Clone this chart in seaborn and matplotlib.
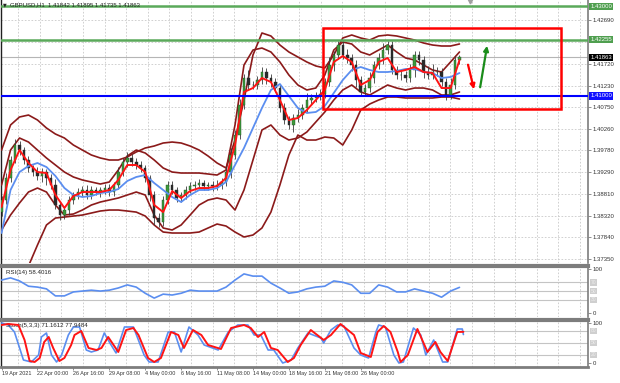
"""GBPUSD H1 chart with Bollinger bands, moving averages, RSI and Stochastic panels."""

import matplotlib

matplotlib.use("Agg")
import matplotlib.pyplot as plt
import matplotlib.transforms as mtransforms
from matplotlib.patches import Rectangle
import numpy as np
import pandas as pd
import seaborn as sns

# ---- x axis: hourly bar index, tick labels every 64 bars ----
date_ticks = [0, 64, 128, 192, 256, 320, 384, 448, 512, 576, 640]
date_labels = ["19 Apr 2021", "22 Apr 00:00", "26 Apr 16:00", "29 Apr 08:00", "4 May 00:00",
               "6 May 16:00", "11 May 08:00", "14 May 00:00", "18 May 16:00", "21 May 08:00",
               "26 May 00:00"]
price_ticks = [1.37350, 1.37840, 1.38320, 1.38810, 1.39290, 1.39780, 1.40260, 1.40750,
               1.41230, 1.41720, 1.42690]
price_grid = price_ticks + [1.42200]

# ---- candles, one every 8 hourly bars ----
candle_step = 8
first_open = 1.38400
closes = [
    1.38671, 1.39163, 1.39566, 1.39901, 1.39789, 1.39566, 1.39387, 1.39297, 1.39208, 1.39297,
    1.39163, 1.39007, 1.38559, 1.38335, 1.38447, 1.38671, 1.38783, 1.38850, 1.38895, 1.38783,
    1.38895, 1.38850, 1.38895, 1.38939, 1.38850, 1.39007, 1.39297, 1.39521, 1.39611, 1.39521,
    1.39454, 1.39387, 1.39163, 1.38783, 1.38268, 1.38179, 1.38671, 1.39007, 1.38895, 1.38716,
    1.38783, 1.38895, 1.38984, 1.39007, 1.39051, 1.38984, 1.39007, 1.38984, 1.39007, 1.39074,
    1.39297, 1.39678, 1.40125, 1.40796, 1.41400, 1.41244, 1.41244, 1.41355, 1.41534, 1.41400,
    1.41311, 1.41176, 1.40729, 1.40461, 1.40349, 1.40505, 1.40572, 1.40729, 1.40908, 1.40953,
    1.40997, 1.41042, 1.41311, 1.41691, 1.41915, 1.42138, 1.41915, 1.41848, 1.41691, 1.41355,
    1.41087, 1.41176, 1.41400, 1.41691, 1.41848, 1.42026, 1.42138, 1.41579, 1.41467, 1.41467,
    1.41400, 1.41579, 1.41915, 1.41803, 1.41534, 1.41467, 1.41534, 1.41534, 1.41311, 1.41020,
    1.41244, 1.41803, 1.41863,
]
# wick lengths beyond the body, in pips
wick_up = [9, 12, 8, 14, 10, 6, 9, 7, 12, 9, 6, 8, 13, 9, 7, 10, 6, 9, 8, 12,
           9, 7, 6, 10, 9, 7, 12, 9, 13, 8, 9, 10, 7, 6, 9, 12, 8, 9, 10, 7,
           6, 9, 8, 10, 9, 7, 6, 9, 12, 8, 14, 16, 12, 13, 9, 18, 10, 8, 12, 9,
           8, 10, 9, 12, 8, 9, 13, 10, 16, 9, 8, 12, 9, 18, 10, 9, 8, 13, 10, 12,
           9, 8, 14, 9, 12, 16, 10, 9, 8, 12, 9, 14, 10, 8, 9, 13, 18, 12, 9, 8,
           16, 9, 6]
wick_dn = [8, 10, 9, 6, 12, 9, 8, 10, 9, 13, 16, 9, 8, 10, 9, 12, 8, 9, 10, 8,
           9, 6, 12, 8, 9, 10, 8, 9, 12, 9, 8, 10, 9, 13, 16, 12, 9, 8, 10, 9,
           8, 9, 6, 10, 9, 8, 9, 12, 8, 10, 9, 13, 10, 8, 9, 12, 9, 10, 8, 13,
           12, 9, 10, 8, 9, 16, 10, 9, 8, 12, 9, 8, 10, 9, 13, 8, 9, 12, 14, 16,
           10, 9, 8, 12, 9, 14, 10, 8, 9, 12, 10, 9, 16, 12, 13, 9, 10, 8, 9, 12,
           9, 10, 8]

# ---- indicator lines, one point every 16 hourly bars ----
line_step = 16
ma_fast = [1.38514, 1.39342, 1.39789, 1.39499, 1.39297, 1.39275, 1.38783, 1.38492, 1.38760, 1.38850,
           1.38850, 1.38850, 1.38895, 1.39119, 1.39454, 1.39454, 1.39297, 1.38559, 1.38401, 1.38872,
           1.38716, 1.38872, 1.38939, 1.38939, 1.38984, 1.39163, 1.39901, 1.41087, 1.41176, 1.41400,
           1.41311, 1.40908, 1.40461, 1.40505, 1.40684, 1.40908, 1.41132, 1.41758, 1.41892, 1.41758,
           1.41244, 1.41355, 1.41758, 1.41848, 1.41534, 1.41579, 1.41646, 1.41534, 1.41512, 1.41176,
           1.41176, 1.41803]
ma_slow = [1.37933, 1.38895, 1.39297, 1.39432, 1.39499, 1.39409, 1.39208, 1.38939, 1.38783, 1.38738,
           1.38760, 1.38828, 1.38850, 1.38917, 1.39096, 1.39186, 1.39230, 1.39051, 1.38895, 1.38738,
           1.38626, 1.38783, 1.38895, 1.38895, 1.38939, 1.39074, 1.39454, 1.39834, 1.40282, 1.40729,
           1.41132, 1.41266, 1.40997, 1.40729, 1.40617, 1.40640, 1.40774, 1.41065, 1.41355, 1.41579,
           1.41646, 1.41579, 1.41534, 1.41534, 1.41557, 1.41602, 1.41602, 1.41534, 1.41512, 1.41400,
           1.41423, 1.41512]
bb_outer_up = [1.39789, 1.40349, 1.40528, 1.40572, 1.40461, 1.40282, 1.40147, 1.40058, 1.39901, 1.39789,
               1.39678, 1.39611, 1.39566, 1.39566, 1.39633, 1.39745, 1.39834, 1.39879, 1.39946, 1.39968,
               1.39946, 1.39879, 1.39789, 1.39655, 1.39499, 1.39387, 1.40013, 1.40908, 1.41915, 1.42407,
               1.42340, 1.42138, 1.41982, 1.41870, 1.41758, 1.41669, 1.41624, 1.41915, 1.42295, 1.42362,
               1.42295, 1.42250, 1.42340, 1.42362, 1.42340, 1.42295, 1.42250, 1.42183, 1.42138, 1.42116,
               1.42116, 1.42161]
bb_outer_dn = [1.36434, 1.36658, 1.36926, 1.37195, 1.37664, 1.38112, 1.38268, 1.38290, 1.38313, 1.38335,
               1.38380, 1.38425, 1.38447, 1.38447, 1.38425, 1.38401, 1.38313, 1.38112, 1.37955, 1.37933,
               1.37933, 1.37933, 1.37955, 1.38045, 1.38134, 1.38089, 1.37955, 1.37844, 1.37888, 1.38045,
               1.38401, 1.39007, 1.39678, 1.40125, 1.40013, 1.40013, 1.40080, 1.40058, 1.39901, 1.40237,
               1.40684, 1.40818, 1.40908, 1.40975, 1.40975, 1.40953, 1.40953, 1.40953, 1.40953, 1.40975,
               1.40975, 1.40930]
bb_inner_up = [1.39007, 1.39789, 1.40058, 1.39968, 1.39789, 1.39611, 1.39454, 1.39297, 1.39186, 1.39119,
               1.39074, 1.39029, 1.39074, 1.39342, 1.39655, 1.39789, 1.39722, 1.39566, 1.39387, 1.39297,
               1.39275, 1.39275, 1.39275, 1.39253, 1.39230, 1.39342, 1.40349, 1.41691, 1.42026, 1.42071,
               1.41982, 1.41758, 1.41467, 1.41244, 1.41132, 1.41176, 1.41467, 1.42026, 1.42205, 1.42161,
               1.41982, 1.41915, 1.42026, 1.42138, 1.41982, 1.41848, 1.41803, 1.41691, 1.41579, 1.41534,
               1.41758, 1.41982]
bb_inner_dn = [1.38000, 1.38335, 1.38604, 1.38850, 1.38939, 1.38850, 1.38559, 1.38335, 1.38358, 1.38447,
               1.38559, 1.38626, 1.38671, 1.38716, 1.38783, 1.38850, 1.38783, 1.38335, 1.38045, 1.38000,
               1.38112, 1.38335, 1.38559, 1.38671, 1.38716, 1.38671, 1.38447, 1.38895, 1.39566, 1.40237,
               1.40349, 1.40125, 1.40013, 1.40058, 1.40192, 1.40416, 1.40640, 1.40908, 1.41132, 1.41244,
               1.41087, 1.41020, 1.41132, 1.41244, 1.41176, 1.41132, 1.41176, 1.41176, 1.41132, 1.41020,
               1.41020, 1.41087]
rsi = [75, 80, 73, 61, 59, 55, 39, 39, 48, 50, 52, 50, 52, 57, 64, 59, 45, 34, 43, 41,
       45, 52, 50, 50, 50, 59, 75, 89, 84, 84, 68, 57, 45, 48, 55, 59, 61, 73, 70, 64,
       45, 45, 64, 59, 48, 48, 55, 50, 45, 36, 50, 58.4]

# ---- stochastic (5,3,3) ----
stoch_k_bars = [0, 12, 23, 39, 53, 66, 71, 80, 89, 98, 107, 119, 128, 139, 151, 160, 172, 183, 192, 204,
                219, 235, 254, 263, 279, 297, 308, 320, 334, 350, 361, 386, 404, 421, 439, 450, 462, 475,
                485, 501, 516, 528, 546, 569, 574, 587, 599, 610, 628, 640, 654, 667, 672, 684, 699, 708,
                716, 734, 747, 756, 770, 786, 795, 812, 821, 823]
stoch_k = [100, 95, 77.5, 7.5, 2.5, 20, 65, 75, 20, 2.5, 20, 70, 90, 90, 32.5, 27.5, 32.5, 75, 52.5, 25,
           90, 90, 20, 2.5, 2.5, 77.5, 77.5, 27.5, 90, 70, 45, 32.5, 77.5, 95, 95, 70, 70, 32.5,
           32.5, 0, 7.5, 37.5, 75, 62.5, 50, 82.5, 95, 92.5, 37.5, 20, 12.5, 77.5, 95, 90, 20, 0,
           2.5, 87.5, 70, 20, 57.5, 2.5, 2.5, 85, 85, 71.16]
stoch_d_bars = [0, 12, 30, 41, 50, 59, 68, 76, 84, 92, 103, 112, 124, 130, 142, 155, 169, 178, 190, 208,
                222, 235, 244, 261, 272, 284, 302, 315, 325, 341, 356, 368, 391, 409, 432, 444, 457, 468,
                480, 492, 510, 521, 533, 551, 574, 587, 604, 628, 640, 658, 670, 681, 693, 706, 711, 724,
                741, 759, 773, 782, 795, 812, 823]
stoch_d = [95, 97.5, 95, 57.5, 5, 2.5, 12.5, 52.5, 65, 37.5, 5, 12.5, 45, 70, 80, 37.5, 32.5, 37.5, 65, 27.5,
           82.5, 87.5, 70, 12.5, 2.5, 12.5, 77.5, 70, 37.5, 82.5, 70, 45, 35, 87.5, 95, 87.5, 65, 77.5,
           37.5, 32.5, 2.5, 12.5, 45, 82.5, 57.5, 70, 97.5, 70, 25, 15, 77.5, 92.5, 77.5, 27.5, 2.5, 20,
           85, 27.5, 52.5, 27.5, 5, 77.5, 77.95]

# ---- drawn annotations (price levels, range box, arrows) ----
green_levels = [1.43000, 1.42255]
blue_level = 1.41000
bid_price = 1.41863
box_bars = (572, 997)
box_prices = (1.40707, 1.42519)
red_arrow = ((830, 1.41758), (843, 1.41087))
green_arrow = ((852, 1.41132), (866, 1.42183))

title_text = "GBPUSD,H1  1.41842 1.41895 1.41735 1.41863"

GRID = "#c9c9c9"
FRAME = "#7d7d7d"
TEXT = "#333333"
DARKRED = "#8b1a1a"
BLUE_LINE = "#5b8ef0"
RED_LINE = "#ff1414"

sns.set_style("white")
plt.rcParams["font.family"] = ["Liberation Sans", "DejaVu Sans"]

fig = plt.figure(figsize=(6.2, 3.83), dpi=100)
left, width = 0.0016, 0.9468
ax_p = fig.add_axes([left, 0.3133, width, 0.6867])
ax_r = fig.add_axes([left, 0.1723, width, 0.1332], sharex=ax_p)
ax_s = fig.add_axes([left, 0.0418, width, 0.1227], sharex=ax_p)

x_max = 1045
grid_x = np.arange(29.6, x_max, 38.5)

for ax in (ax_p, ax_r, ax_s):
    ax.set_xlim(-1, x_max)
    for gx in grid_x:
        ax.axvline(gx, color=GRID, lw=0.6, ls=(0, (2, 2)), zorder=0)
    ax.yaxis.tick_right()
    ax.tick_params(axis="y", which="both", right=True, length=2, width=0.6, pad=1.5,
                   labelsize=4.3, labelcolor=TEXT, color=FRAME)
    ax.tick_params(axis="x", bottom=False, labelbottom=False)
    for side in ("top", "bottom"):
        ax.spines[side].set_visible(False)
    ax.spines["left"].set_color("#202020")
    ax.spines["left"].set_linewidth(1.0)
    ax.spines["right"].set_color(FRAME)
    ax.spines["right"].set_linewidth(1.2)

# separators between panels
for ax in (ax_r, ax_s):
    ax.spines["top"].set_visible(True)
    ax.spines["top"].set_color(FRAME)
    ax.spines["top"].set_linewidth(3)
ax_s.spines["bottom"].set_visible(True)
ax_s.spines["bottom"].set_color(FRAME)
ax_s.spines["bottom"].set_linewidth(2)

# ---- price panel ----
ax_p.set_ylim(1.37262, 1.43145)
for gy in price_grid:
    ax_p.axhline(gy, color=GRID, lw=0.6, ls=(0, (2, 2)), zorder=0)
ax_p.set_yticks(price_ticks)
ax_p.set_yticklabels([f"{v:.5f}" for v in price_ticks])

ax_p.axhline(bid_price, color="#b5b5b5", lw=0.8, zorder=1)

line_x = np.arange(len(ma_fast)) * line_step
for band in (bb_outer_up, bb_outer_dn, bb_inner_up, bb_inner_dn):
    sns.lineplot(x=line_x, y=band, ax=ax_p, color=DARKRED, lw=1.2, zorder=3)

candle_x = np.arange(len(closes)) * candle_step
close_arr = np.array(closes)
open_arr = np.concatenate([[first_open], close_arr[:-1]])
highs = np.maximum(open_arr, close_arr) + np.array(wick_up) * 1e-4
lows = np.minimum(open_arr, close_arr) - np.array(wick_dn) * 1e-4
bull = close_arr >= open_arr
ax_p.vlines(candle_x, lows, highs, color="#3a3a3a", lw=0.6, zorder=4)
ax_p.bar(candle_x[bull], (close_arr - open_arr)[bull], bottom=open_arr[bull], width=4.5,
         color="#3c9a3c", edgecolor="#1f4f1f", lw=0.3, zorder=5)
ax_p.bar(candle_x[~bull], (open_arr - close_arr)[~bull], bottom=close_arr[~bull], width=4.5,
         color="#2a2a2a", edgecolor="#2a2a2a", lw=0.3, zorder=5)

sns.lineplot(x=line_x, y=ma_slow, ax=ax_p, color=BLUE_LINE, lw=1.3, zorder=6)
sns.lineplot(x=line_x, y=ma_fast, ax=ax_p, color=RED_LINE, lw=1.4, zorder=7)

for lvl in green_levels:
    ax_p.axhline(lvl, color="#5aa95a", lw=1.8, zorder=8)
ax_p.axhline(blue_level, color="#0000ff", lw=1.5, zorder=8)

ax_p.add_patch(Rectangle((box_bars[0], box_prices[0]), box_bars[1] - box_bars[0],
                         box_prices[1] - box_prices[0], fill=False, ec="#ff0000", lw=1.8, zorder=9))
ax_p.annotate("", xy=red_arrow[1], xytext=red_arrow[0],
              arrowprops=dict(arrowstyle="-|>", color="#ff0000", lw=1.6, mutation_scale=7), zorder=9)
ax_p.annotate("", xy=green_arrow[1], xytext=green_arrow[0],
              arrowprops=dict(arrowstyle="-|>", color="#1a8c1a", lw=1.6, mutation_scale=7), zorder=9)

# level boxes on the price scale
trans_p = mtransforms.blended_transform_factory(ax_p.transAxes, ax_p.transData)
level_boxes = [(green_levels[0], "#4f9f4f", "white"), (green_levels[1], "#4f9f4f", "white"),
               (bid_price, "#000000", "white"), (blue_level, "#1010ff", "white")]
for val, fc, tc in level_boxes:
    ax_p.text(1.004, val, f"{val:.5f}", transform=trans_p, fontsize=4.3, color=tc,
              va="center", ha="left", clip_on=False, zorder=12,
              bbox=dict(boxstyle="square,pad=0.2", fc=fc, ec="none"))

ax_p.text(0.004, 0.992, "\u25bc", transform=ax_p.transAxes, fontsize=3.5, color="#222222",
          va="top", ha="left", family="DejaVu Sans", zorder=12)
ax_p.text(0.016, 0.993, title_text, transform=ax_p.transAxes, fontsize=4.3, color="#222222",
          va="top", ha="left", zorder=12)
ax_p.plot([835], [1.4313], marker="v", color="#a0a0a0", ms=3.5, clip_on=False, zorder=12)

# ---- RSI panel ----
ax_r.set_ylim(-9, 107)
for lvl in (30, 50, 70):
    ax_r.axhline(lvl, color="#c4c4c4", lw=0.8, zorder=0)
sns.lineplot(x=line_x, y=rsi, ax=ax_r, color=BLUE_LINE, lw=1.2, zorder=3)
ax_r.set_yticks([0, 100])
ax_r.set_yticklabels(["0", "100"])
ax_r.text(0.008, 0.93, "RSI(14) 58.4016", transform=ax_r.transAxes, fontsize=4.4,
          color="#222222", va="top", ha="left")

# ---- Stochastic panel ----
ax_s.set_ylim(-10, 107.5)
for lvl in (20, 50, 80):
    ax_s.axhline(lvl, color="#c4c4c4", lw=0.8, zorder=0)
sns.lineplot(x=stoch_k_bars, y=stoch_k, ax=ax_s, color=BLUE_LINE, lw=1.2, zorder=3)
sns.lineplot(x=stoch_d_bars, y=stoch_d, ax=ax_s, color=RED_LINE, lw=1.4, zorder=4)
ax_s.set_yticks([0, 100])
ax_s.set_yticklabels(["0", "100"])
ax_s.text(0.008, 0.93, "Stoch(5,3,3) 71.1612 77.9484", transform=ax_s.transAxes, fontsize=4.4,
          color="#222222", va="top", ha="left")

for ax, levels in ((ax_r, (70, 50, 30)), (ax_s, (80, 50, 20))):
    trans = mtransforms.blended_transform_factory(ax.transAxes, ax.transData)
    for lvl in levels:
        ax.text(1.004, lvl, f"{lvl}", transform=trans, fontsize=3.6, color="#ededed",
                va="center", ha="left", clip_on=False,
                bbox=dict(boxstyle="square,pad=0.15", fc="#cfcfcf", ec="none"))

ax_s.set_xticks(date_ticks)
ax_s.set_xticklabels(date_labels, ha="left")
ax_s.tick_params(axis="x", bottom=True, labelbottom=True, length=2, width=0.6, pad=1,
                 labelsize=3.9, labelcolor=TEXT, color=FRAME)

for ax in (ax_p, ax_r, ax_s):
    ax.set_xlabel("")
    ax.set_ylabel("")
    legend = ax.get_legend()
    if legend is not None:
        legend.remove()

fig.savefig("out.png", dpi=100, facecolor="white")
